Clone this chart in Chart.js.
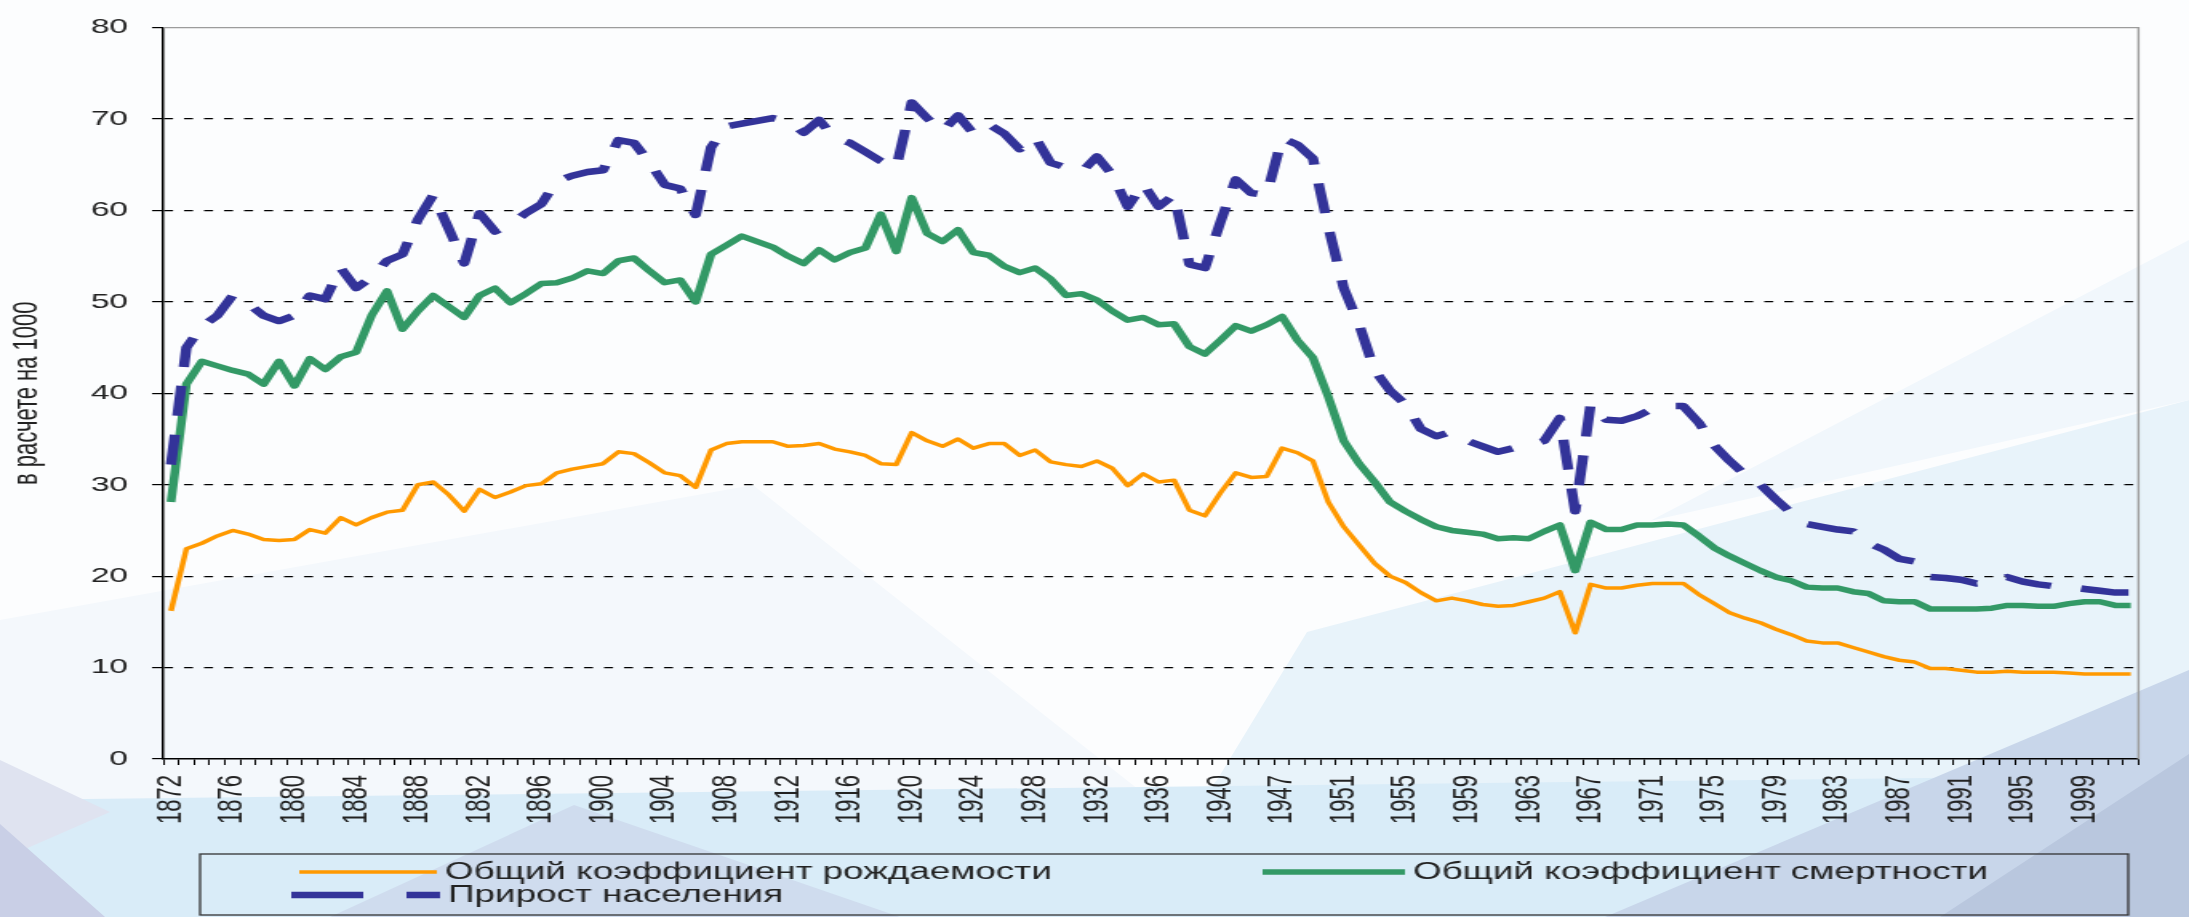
<!DOCTYPE html>
<html>
<head>
<meta charset="utf-8">
<title>Рождаемость, смертность и прирост населения</title>
<script src="https://cdn.jsdelivr.net/npm/chart.js@4.4.1/dist/chart.umd.min.js"></script>
<style>
  html, body { margin: 0; padding: 0; }
  body { width: 2189px; height: 917px; overflow: hidden; position: relative; background: #fcfdfe; }
  #bg { position: absolute; left: 0; top: 0; }
  /* the chart is laid out narrow and then stretched sideways */
  #wrap { position: absolute; left: 0; top: 0; width: 1368px; height: 917px;
          transform: scaleX(1.6002); transform-origin: 0 0; }
</style>
</head>
<body>
<svg id="bg" width="2189" height="917" viewBox="0 0 2189 917">
  <rect width="2189" height="917" fill="#fcfdfe"/>
  <polygon points="0,620 753,485 1300,917 0,917" fill="#f4f8fc"/>
  <polygon points="1217,780 1307,632 2189,400 2189,917 1100,917" fill="#e8f3fa"/>
  <polygon points="1650,521 2189,400 2189,240" fill="#f1f7fc"/>
  <polygon points="0,800 2189,775 2189,917 0,917" fill="#d9ecf8"/>
  <polygon points="0,760 110,812 0,860" fill="#dfe3f0"/>
  <polygon points="0,824 105,917 0,917" fill="#c9cfe6"/>
  <polygon points="574,805 900,917 330,917" fill="#cfdcee"/>
  <polygon points="1605,917 2189,670 2189,917" fill="#c8d6ea"/>
  <polygon points="1940,917 2189,754 2189,917" fill="#b9c7de"/>
</svg>
<div id="wrap"><canvas id="rates_chart"></canvas></div>
<script>
// years on the category axis (1941-1943 are absent in the series)
const years = [
  1872, 1873, 1874, 1875, 1876, 1877, 1878, 1879, 1880, 1881,
  1882, 1883, 1884, 1885, 1886, 1887, 1888, 1889, 1890, 1891,
  1892, 1893, 1894, 1895, 1896, 1897, 1898, 1899, 1900, 1901,
  1902, 1903, 1904, 1905, 1906, 1907, 1908, 1909, 1910, 1911,
  1912, 1913, 1914, 1915, 1916, 1917, 1918, 1919, 1920, 1921,
  1922, 1923, 1924, 1925, 1926, 1927, 1928, 1929, 1930, 1931,
  1932, 1933, 1934, 1935, 1936, 1937, 1938, 1939, 1940, 1944,
  1945, 1946, 1947, 1948, 1949, 1950, 1951, 1952, 1953, 1954,
  1955, 1956, 1957, 1958, 1959, 1960, 1961, 1962, 1963, 1964,
  1965, 1966, 1967, 1968, 1969, 1970, 1971, 1972, 1973, 1974,
  1975, 1976, 1977, 1978, 1979, 1980, 1981, 1982, 1983, 1984,
  1985, 1986, 1987, 1988, 1989, 1990, 1991, 1992, 1993, 1994,
  1995, 1996, 1997, 1998, 1999, 2000, 2001, 2002
];

// years that get a label under the axis
const labelYears = [
  1872, 1876, 1880, 1884, 1888, 1892, 1896, 1900, 1904, 1908,
  1912, 1916, 1920, 1924, 1928, 1932, 1936, 1940, 1947, 1951,
  1955, 1959, 1963, 1967, 1971, 1975, 1979, 1983, 1987, 1991,
  1995, 1999
];

const birthRate = [
  16.2, 23.0, 23.6, 24.4, 25.0, 24.6, 24.0, 23.9, 24.0, 25.1,
  24.7, 26.4, 25.6, 26.4, 27.0, 27.2, 30.0, 30.3, 28.9, 27.1,
  29.5, 28.6, 29.2, 29.9, 30.1, 31.3, 31.7, 32.0, 32.3, 33.6,
  33.4, 32.4, 31.3, 31.0, 29.7, 33.8, 34.5, 34.7, 34.7, 34.7,
  34.2, 34.3, 34.5, 33.9, 33.6, 33.2, 32.3, 32.2, 35.7, 34.8,
  34.2, 35.0, 34.0, 34.5, 34.5, 33.2, 33.8, 32.5, 32.2, 32.0,
  32.6, 31.8, 29.9, 31.2, 30.3, 30.5, 27.2, 26.6, 29.1, 31.3,
  30.8, 30.9, 34.0, 33.5, 32.6, 28.1, 25.4, 23.4, 21.4, 20.0,
  19.3, 18.2, 17.3, 17.6, 17.3, 16.9, 16.7, 16.8, 17.2, 17.6,
  18.3, 13.8, 19.1, 18.7, 18.7, 19.0, 19.2, 19.2, 19.2, 18.0,
  17.0, 16.0, 15.4, 14.9, 14.2, 13.6, 12.9, 12.7, 12.7, 12.2,
  11.7, 11.2, 10.8, 10.6, 9.9, 9.9, 9.7, 9.5, 9.5, 9.6,
  9.5, 9.5, 9.5, 9.4, 9.3, 9.3, 9.3, 9.3
];

const deathRate = [
  28.1, 41.0, 43.5, 43.0, 42.5, 42.1, 41.0, 43.5, 40.8, 43.8,
  42.6, 44.0, 44.5, 48.5, 51.2, 47.0, 49.0, 50.7, 49.5, 48.3,
  50.7, 51.5, 49.9, 50.9, 52.0, 52.1, 52.6, 53.4, 53.1, 54.5,
  54.8, 53.4, 52.1, 52.4, 50.0, 55.2, 56.2, 57.2, 56.6, 56.0,
  55.0, 54.2, 55.7, 54.6, 55.4, 55.9, 59.6, 55.5, 61.4, 57.5,
  56.6, 57.9, 55.4, 55.1, 53.9, 53.2, 53.7, 52.5, 50.7, 50.9,
  50.2, 49.0, 48.0, 48.3, 47.5, 47.6, 45.1, 44.3, 45.8, 47.4,
  46.8, 47.5, 48.4, 45.8, 43.9, 39.6, 34.8, 32.3, 30.3, 28.1,
  27.1, 26.2, 25.4, 25.0, 24.8, 24.6, 24.1, 24.2, 24.1, 24.9,
  25.6, 20.6, 25.9, 25.1, 25.1, 25.6, 25.6, 25.7, 25.6, 24.4,
  23.1, 22.2, 21.4, 20.6, 19.9, 19.5, 18.8, 18.7, 18.7, 18.3,
  18.1, 17.3, 17.2, 17.2, 16.4, 16.4, 16.4, 16.4, 16.5, 16.8,
  16.8, 16.7, 16.7, 17.0, 17.2, 17.2, 16.8, 16.8
];

const growth = [
  32.2, 45.0, 47.3, 48.5, 50.7, 49.8, 48.5, 47.9, 48.5, 50.7,
  50.3, 53.7, 51.5, 52.7, 54.5, 55.2, 59.0, 61.7, 58.0, 54.2,
  59.7, 57.7, 58.5, 59.7, 60.7, 63.2, 63.8, 64.2, 64.4, 67.7,
  67.4, 65.3, 62.8, 62.4, 59.5, 66.9, 69.2, 69.5, 69.8, 70.1,
  69.8, 68.5, 69.9, 67.9, 67.4, 66.4, 65.4, 64.7, 71.8, 70.1,
  68.7, 70.4, 68.4, 69.4, 68.4, 66.7, 68.0, 65.2, 64.7, 64.2,
  65.9, 63.9, 60.4, 62.9, 60.4, 61.7, 54.1, 53.7, 58.7, 63.4,
  61.9, 61.7, 67.9, 67.2, 65.7, 58.2, 51.5, 47.5, 42.5, 40.3,
  38.8, 36.1, 35.3, 35.8, 34.8, 34.2, 33.6, 34.0, 34.3, 34.8,
  37.3, 27.1, 38.8, 37.1, 37.0, 37.5, 38.3, 38.6, 38.6, 36.8,
  34.3, 32.6, 31.1, 30.0, 28.4, 26.9, 25.7, 25.4, 25.1, 24.9,
  23.6, 22.9, 21.9, 21.6, 19.9, 19.8, 19.6, 19.2, 19.4, 19.9,
  19.4, 19.1, 18.9, 18.8, 18.6, 18.4, 18.2, 18.2
];

Chart.defaults.font.family = '"Liberation Sans", Arial, sans-serif';
Chart.defaults.color = '#222';

// grey frame on the top and right of the plot area
const plotFrame = {
  id: 'plotFrame',
  beforeDatasetsDraw(chart) {
    const {ctx, chartArea: a} = chart;
    ctx.save();
    ctx.strokeStyle = '#9c9c9c';
    ctx.lineWidth = 1.4;
    ctx.beginPath();
    ctx.moveTo(a.left, a.top);
    ctx.lineTo(a.right, a.top);
    ctx.lineTo(a.right, a.bottom);
    ctx.stroke();
    ctx.restore();
  }
};

// boxed legend under the axis, two entries in the first row
const boxLegend = {
  id: 'boxLegend',
  afterDraw(chart) {
    const ctx = chart.ctx;
    const items = [
      {ds: 0, x: 187, y: 872, len: 86},
      {ds: 1, x: 789, y: 872, len: 89},
      {ds: 2, x: 182, y: 895, len: 93, dash: [45, 27]}
    ];
    ctx.save();
    ctx.strokeStyle = '#333';
    ctx.lineWidth = 1.3;
    ctx.strokeRect(125, 854, 1205, 61);
    ctx.font = '23px "Liberation Sans", Arial, sans-serif';
    ctx.textBaseline = 'middle';
    ctx.fillStyle = '#222';
    items.forEach(it => {
      const ds = chart.data.datasets[it.ds];
      ctx.save();
      ctx.strokeStyle = ds.borderColor;
      ctx.lineWidth = ds.borderWidth;
      ctx.setLineDash(it.dash || []);
      ctx.beginPath();
      ctx.moveTo(it.x, it.y);
      ctx.lineTo(it.x + it.len, it.y);
      ctx.stroke();
      ctx.restore();
      ctx.fillText(ds.label, it.x + it.len + 5, it.y + 1);
    });
    ctx.restore();
  }
};

var rates_chart = new Chart(document.getElementById('rates_chart'), {
  type: 'line',
  data: {
    labels: years,
    datasets: [
      {
        label: 'Общий коэффициент рождаемости',
        data: birthRate,
        borderColor: '#FF9900',
        borderWidth: 3.5,
        order: 3
      },
      {
        label: 'Общий коэффициент смертности',
        data: deathRate,
        borderColor: '#339966',
        borderWidth: 5.5,
        order: 2
      },
      {
        label: 'Прирост населения',
        data: growth,
        borderColor: '#333399',
        borderWidth: 6.5,
        borderDash: [30, 19],
        order: 1
      }
    ]
  },
  options: {
    responsive: true,
    maintainAspectRatio: false,
    animation: false,
    layout: {
      padding: {left: 0, right: 7.4, top: 18, bottom: 0}
    },
    elements: {
      point: {radius: 0, hoverRadius: 0},
      line: {tension: 0, borderJoinStyle: 'round', fill: false}
    },
    scales: {
      x: {
        offset: true,
        afterFit: (scale) => { scale.height = 158; },
        grid: {
          offset: true,
          drawOnChartArea: false,
          color: '#000',
          tickLength: 6,
          lineWidth: 1
        },
        border: {color: '#000', width: 1.5},
        ticks: {
          autoSkip: false,
          minRotation: 90,
          maxRotation: 90,
          padding: 10,
          color: '#222',
          font: {size: 22},
          callback: function (value, index) {
            return labelYears.includes(years[index]) ? String(years[index]) : '';
          }
        }
      },
      y: {
        min: 0,
        max: 80,
        afterFit: (scale) => { scale.width = 102; },
        ticks: {
          stepSize: 10,
          padding: 15,
          color: '#222',
          font: {size: 21}
        },
        grid: {
          color: (c) => (c.tick && (c.tick.value === 80 || c.tick.value === 0)) ? 'rgba(0,0,0,0)' : '#000',
          tickColor: '#000',
          tickLength: 7,
          lineWidth: 1.2
        },
        border: {color: '#000', width: 1.5, dash: [5.6, 6.9]},
        title: {
          display: true,
          text: 'в расчете на 1000',
          color: '#222',
          font: {size: 22},
          padding: {top: 4, bottom: 0}
        }
      }
    },
    plugins: {
      legend: {display: false},
      tooltip: {enabled: false}
    }
  },
  plugins: [plotFrame, boxLegend]
});
</script>
</body>
</html>
